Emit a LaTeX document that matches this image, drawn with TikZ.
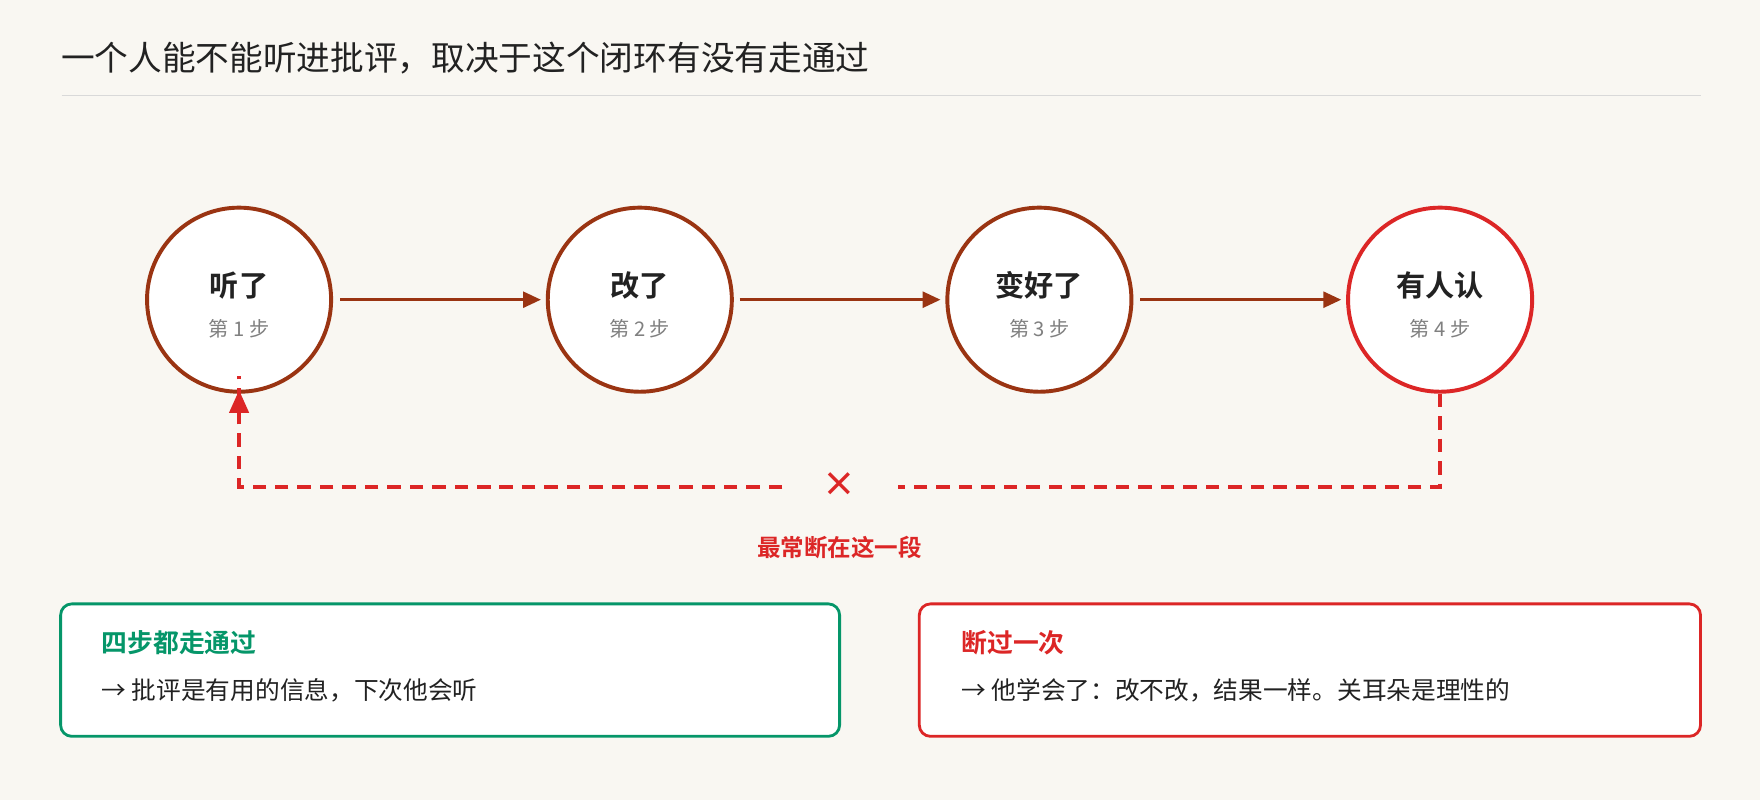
\documentclass[tikz,border=0pt]{standalone}
\usepackage{fontspec}
\setmainfont{Noto Sans CJK SC}[BoldFont={Noto Sans CJK SC Bold}]
\usetikzlibrary{arrows.meta}
\definecolor{bg}{HTML}{F9F7F2}
\definecolor{brn}{HTML}{9A3412}
\definecolor{rd}{HTML}{DC2626}
\definecolor{gr}{HTML}{059669}
\definecolor{txt}{HTML}{222222}
\begin{document}
\begin{tikzpicture}[x=1pt,y=-1pt,
  stepnode/.style={circle,draw=brn,line width=3.5pt,fill=white,minimum size=164pt,inner sep=0pt},
  flow/.style={draw=brn,line width=3pt,-{Triangle[length=16pt,width=14pt]}},
  back/.style={draw=rd,line width=3pt,dash pattern=on 12pt off 8pt},
  main/.style={font=\fontsize{26}{30}\selectfont\bfseries,text=txt},
  sub/.style={font=\fontsize{18}{22}\selectfont,text=gray},
  card/.style={rounded corners=10pt,line width=2.5pt,fill=white}]
\fill[bg] (0,0) rectangle (1568,713);
\useasboundingbox (0,0) rectangle (1568,713);
\node[anchor=west,font=\fontsize{30}{34}\selectfont,text=txt] (title) at (51,52) {一个人能不能听进批评，取决于这个闭环有没有走通过};
\draw[black!15,line width=1pt] (55,85) -- (1515,85);
\foreach \n/\x/\t/\k/\c in {a/213/听了/1/brn,b/570/改了/2/brn,c/926/变好了/3/brn,d/1283/有人认/4/rd}{
  \node[stepnode,draw=\c] (\n) at (\x,267) {};
  \node[main] (\n t) at (\x,254) {\t};
  \node[sub] (\n s) at (\x,293) {第 \k{} 步};
}
\draw[flow] (303,267) -- (482,267);
\draw[flow] (659,267) -- (838,267);
\draw[flow] (1016,267) -- (1195,267);
\coordinate (d1) at (1283,434);
\coordinate (g1) at (800,434);
\coordinate (g2) at (697,434);
\coordinate (a1) at (213,434);
\draw[back] (d.south) -- (d1) -- (g1);
\draw[back] (g2) -- (a1) -- ([yshift=16pt]a.south);
\fill[rd] ([yshift=3pt]a.south) -- ++(-9,20) -- ++(18,0) -- cycle;
\node[text=rd,font=\fontsize{30}{30}\selectfont\bfseries] (x) at (748,432) {×};
\node[text=rd,font=\fontsize{21}{25}\selectfont\bfseries] (lab) at (748,488) {最常断在这一段};
\draw[card,draw=gr] (54,538) rectangle (748,656);
\draw[card,draw=rd] (819,538) rectangle (1515,656);
\node[anchor=west,text=gr,font=\fontsize{23}{27}\selectfont\bfseries] (g t) at (87,573) {四步都走通过};
\node[anchor=west,text=txt,font=\fontsize{22}{26}\selectfont] (g b) at (87,615) {→ 批评是有用的信息，下次他会听};
\node[anchor=west,text=rd,font=\fontsize{23}{27}\selectfont\bfseries] (r t) at (853,573) {断过一次};
\node[anchor=west,text=txt,font=\fontsize{22}{26}\selectfont] (r b) at (853,615) {→ 他学会了：改不改，结果一样。关耳朵是理性的};
\end{tikzpicture}
\end{document}
